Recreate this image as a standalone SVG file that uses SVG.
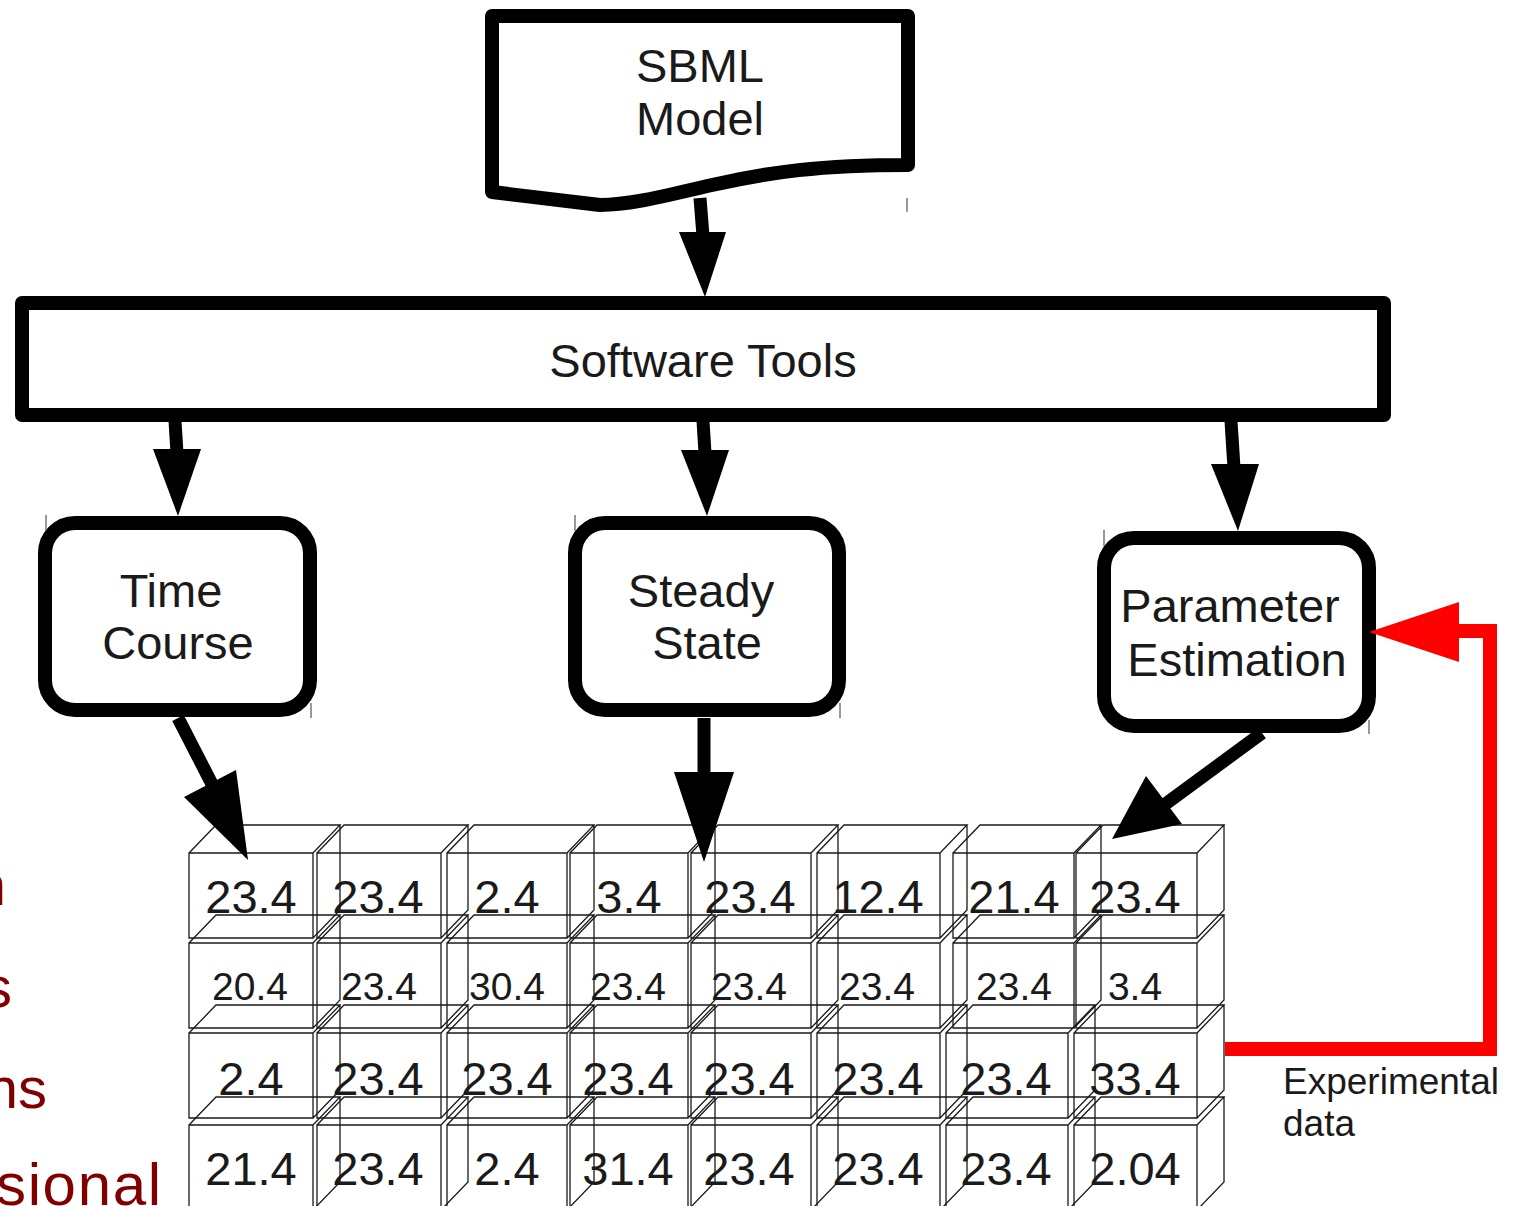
<svg xmlns="http://www.w3.org/2000/svg" width="1513" height="1206" viewBox="0 0 1513 1206">
  <style>
    .box { fill: #fff; stroke: #000; stroke-width: 14; stroke-linejoin: round; }
    .lbl { font-family: "Liberation Sans", Arial, sans-serif; font-size: 47px; fill: #1a1a1a; text-anchor: middle; }
    .num { font-family: "Liberation Sans", Arial, sans-serif; font-size: 47px; fill: #1a1a1a; text-anchor: middle; }
    .num.small { font-size: 39px; }
    .cube { fill: none; stroke: #1a1a1a; stroke-width: 1.3; }
    .shaft { stroke: #000; stroke-width: 13; fill: none; }
    .head { fill: #000; }
    .tick { stroke: #555; stroke-width: 1.2; }
    .side { font-family: "Liberation Sans", Arial, sans-serif; font-size: 58px; fill: #800000; text-anchor: end; }
    .side.wide { font-size: 60px; text-anchor: start; }
    .note { font-family: "Liberation Sans", Arial, sans-serif; font-size: 37px; fill: #1a1a1a; }
  </style>

  <rect width="1513" height="1206" fill="#fff"/>

  <!-- slide text running off the left edge -->
  <g id="side-text">
    <text class="side" x="6" y="905">n</text>
    <text class="side" x="12" y="1007">s</text>
    <text class="side" x="47" y="1108">ns</text>
    <text class="side wide" x="-4" y="1205" textLength="165" lengthAdjust="spacing">sional</text>
  </g>

  <!-- document shape -->
  <g id="sbml-model">
    <path class="box" d="M492,16 L908,16 L908,165 C820,165 770,172 712,185 C660,197 630,205 600,205 L492,192 Z"/>
    <text class="lbl" x="700" y="82">SBML</text>
    <text class="lbl" x="700" y="135">Model</text>
    <line class="tick" x1="907" y1="198" x2="907" y2="212"/>
  </g>

  <g id="software-tools">
    <rect class="box" x="22" y="303" width="1362" height="112"/>
    <text class="lbl" x="703" y="377">Software Tools</text>
  </g>

  <g id="time-course">
    <rect class="box" x="45" y="523" width="265" height="187" rx="30"/>
    <text class="lbl" x="171" y="607">Time</text>
    <text class="lbl" x="178" y="659">Course</text>
    <line class="tick" x1="46" y1="515" x2="46" y2="531"/>
    <line class="tick" x1="311" y1="703" x2="311" y2="718"/>
  </g>

  <g id="steady-state">
    <rect class="box" x="575" y="523" width="264" height="187" rx="30"/>
    <text class="lbl" x="701" y="607">Steady</text>
    <text class="lbl" x="707" y="659">State</text>
    <line class="tick" x1="575" y1="515" x2="575" y2="531"/>
    <line class="tick" x1="840" y1="703" x2="840" y2="718"/>
  </g>

  <g id="parameter-estimation">
    <rect class="box" x="1104" y="538" width="265" height="188" rx="30"/>
    <text class="lbl" x="1230" y="622">Parameter</text>
    <text class="lbl" x="1237" y="676">Estimation</text>
    <line class="tick" x1="1104" y1="530" x2="1104" y2="546"/>
    <line class="tick" x1="1369" y1="720" x2="1369" y2="734"/>
  </g>

  <!-- wireframe data cubes: front face, top face, right face -->
  <g id="data-grid">
    <g class="cube-row">
      <path class="cube" d="M189,853h124v85h-124zl27-28h124l-27,28m27-28v85l-27,28"/>
      <path class="cube" d="M317,853h124v85h-124zl27-28h124l-27,28m27-28v85l-27,28"/>
      <path class="cube" d="M447,853h120v85h-120zl27-28h120l-27,28m27-28v85l-27,28"/>
      <path class="cube" d="M570,853h118v85h-118zl27-28h118l-27,28m27-28v85l-27,28"/>
      <path class="cube" d="M691,853h120v85h-120zl27-28h120l-27,28m27-28v85l-27,28"/>
      <path class="cube" d="M817,853h123v85h-123zl27-28h123l-27,28m27-28v85l-27,28"/>
      <path class="cube" d="M953,853h121v85h-121zl27-28h121l-27,28m27-28v85l-27,28"/>
      <path class="cube" d="M1076,853h121v85h-121zl27-28h121l-27,28m27-28v85l-27,28"/>
      <text class="num" x="251" y="913">23.4</text>
      <text class="num" x="378" y="913">23.4</text>
      <text class="num" x="507" y="913">2.4</text>
      <text class="num" x="629" y="913">3.4</text>
      <text class="num" x="750" y="913">23.4</text>
      <text class="num" x="878" y="913">12.4</text>
      <text class="num" x="1014" y="913">21.4</text>
      <text class="num" x="1135" y="913">23.4</text>
    </g>
    <g class="cube-row">
      <path class="cube" d="M189,943h124v85h-124zl27-28h124l-27,28m27-28v85l-27,28"/>
      <path class="cube" d="M317,943h124v85h-124zl27-28h124l-27,28m27-28v85l-27,28"/>
      <path class="cube" d="M447,943h120v85h-120zl27-28h120l-27,28m27-28v85l-27,28"/>
      <path class="cube" d="M570,943h118v85h-118zl27-28h118l-27,28m27-28v85l-27,28"/>
      <path class="cube" d="M691,943h120v85h-120zl27-28h120l-27,28m27-28v85l-27,28"/>
      <path class="cube" d="M817,943h123v85h-123zl27-28h123l-27,28m27-28v85l-27,28"/>
      <path class="cube" d="M953,943h121v85h-121zl27-28h121l-27,28m27-28v85l-27,28"/>
      <path class="cube" d="M1076,943h121v85h-121zl27-28h121l-27,28m27-28v85l-27,28"/>
      <text class="num small" x="250" y="1000">20.4</text>
      <text class="num small" x="379" y="1000">23.4</text>
      <text class="num small" x="507" y="1000">30.4</text>
      <text class="num small" x="628" y="1000">23.4</text>
      <text class="num small" x="749" y="1000">23.4</text>
      <text class="num small" x="877" y="1000">23.4</text>
      <text class="num small" x="1014" y="1000">23.4</text>
      <text class="num small" x="1135" y="1000">3.4</text>
    </g>
    <g class="cube-row">
      <path class="cube" d="M189,1033h124v85h-124zl27-28h124l-27,28m27-28v85l-27,28"/>
      <path class="cube" d="M317,1033h124v85h-124zl27-28h124l-27,28m27-28v85l-27,28"/>
      <path class="cube" d="M447,1033h120v85h-120zl27-28h120l-27,28m27-28v85l-27,28"/>
      <path class="cube" d="M570,1033h118v85h-118zl27-28h118l-27,28m27-28v85l-27,28"/>
      <path class="cube" d="M691,1033h120v85h-120zl27-28h120l-27,28m27-28v85l-27,28"/>
      <path class="cube" d="M817,1033h123v85h-123zl27-28h123l-27,28m27-28v85l-27,28"/>
      <path class="cube" d="M946,1033h122v85h-122zl27-28h122l-27,28m27-28v85l-27,28"/>
      <path class="cube" d="M1074,1033h123v85h-123zl27-28h123l-27,28m27-28v85l-27,28"/>
      <text class="num" x="251" y="1095">2.4</text>
      <text class="num" x="378" y="1095">23.4</text>
      <text class="num" x="507" y="1095">23.4</text>
      <text class="num" x="628" y="1095">23.4</text>
      <text class="num" x="749" y="1095">23.4</text>
      <text class="num" x="878" y="1095">23.4</text>
      <text class="num" x="1006" y="1095">23.4</text>
      <text class="num" x="1135" y="1095">33.4</text>
    </g>
    <g class="cube-row">
      <path class="cube" d="M189,1125h124v85h-124zl27-28h124l-27,28m27-28v85l-27,28"/>
      <path class="cube" d="M317,1125h124v85h-124zl27-28h124l-27,28m27-28v85l-27,28"/>
      <path class="cube" d="M447,1125h120v85h-120zl27-28h120l-27,28m27-28v85l-27,28"/>
      <path class="cube" d="M570,1125h118v85h-118zl27-28h118l-27,28m27-28v85l-27,28"/>
      <path class="cube" d="M691,1125h120v85h-120zl27-28h120l-27,28m27-28v85l-27,28"/>
      <path class="cube" d="M817,1125h123v85h-123zl27-28h123l-27,28m27-28v85l-27,28"/>
      <path class="cube" d="M946,1125h122v85h-122zl27-28h122l-27,28m27-28v85l-27,28"/>
      <path class="cube" d="M1074,1125h123v85h-123zl27-28h123l-27,28m27-28v85l-27,28"/>
      <text class="num" x="251" y="1185">21.4</text>
      <text class="num" x="378" y="1185">23.4</text>
      <text class="num" x="507" y="1185">2.4</text>
      <text class="num" x="628" y="1185">31.4</text>
      <text class="num" x="749" y="1185">23.4</text>
      <text class="num" x="878" y="1185">23.4</text>
      <text class="num" x="1006" y="1185">23.4</text>
      <text class="num" x="1135" y="1185">2.04</text>
    </g>
  </g>

  <g id="experimental-data-label">
    <text class="note" x="1283" y="1094">Experimental</text>
    <text class="note" x="1283" y="1136">data</text>
  </g>

  <g id="connectors">
    <!-- SBML Model to Software Tools -->
    <line class="shaft" x1="700" y1="198" x2="703" y2="236"/>
    <polygon class="head" points="679,232 726,232 705,297"/>
    <!-- Software Tools to the three analyses -->
    <line class="shaft" x1="175" y1="421" x2="177" y2="453"/>
    <polygon class="head" points="153,449 201,449 178,516"/>
    <line class="shaft" x1="703" y1="421" x2="705" y2="453"/>
    <polygon class="head" points="681,450 729,450 707,516"/>
    <line class="shaft" x1="1231" y1="421" x2="1234" y2="468"/>
    <polygon class="head" points="1211,464 1259,464 1238,531"/>
    <!-- analyses to the data grid -->
    <line class="shaft" x1="178" y1="718" x2="214" y2="788"/>
    <polygon class="head" points="184,797 236,770 248,860"/>
    <line class="shaft" x1="704" y1="718" x2="704" y2="778"/>
    <polygon class="head" points="674,772 734,772 704,862"/>
    <line class="shaft" x1="1262" y1="733" x2="1160" y2="808"/>
    <polygon class="head" points="1146,776 1182,824 1112,839"/>
    <!-- experimental data feedback -->
    <polyline points="1225,1049 1490,1049 1490,631 1458,631" fill="none" stroke="#ff0000" stroke-width="14"/>
    <polygon points="1459,602 1459,662 1369,632" fill="#ff0000"/>
  </g>
</svg>
